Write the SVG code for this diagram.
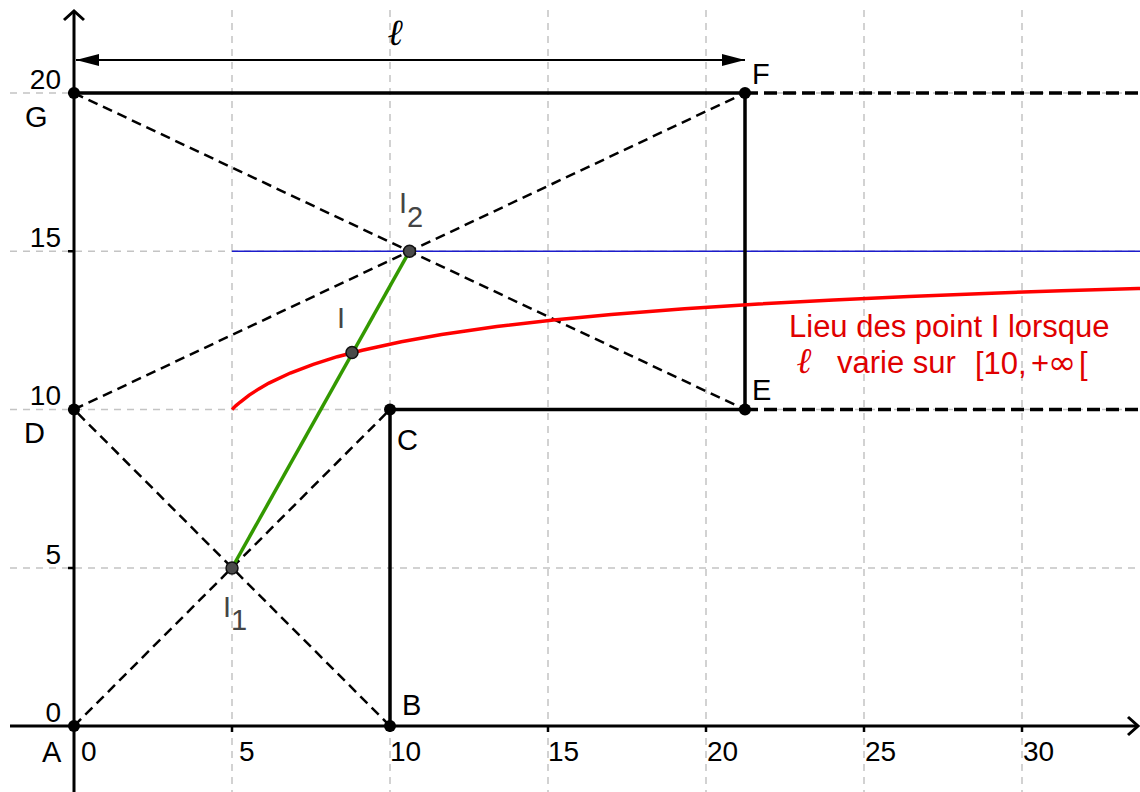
<svg xmlns="http://www.w3.org/2000/svg" width="1140" height="792" viewBox="0 0 1140 792">
<style>
.grid{stroke:#c4c4c4;stroke-width:1.5;stroke-dasharray:7 6;fill:none}
.axis{stroke:#000;stroke-width:3;fill:none}
.solid{stroke:#000;stroke-width:3.5;fill:none;stroke-linecap:square}
.ext{stroke:#000;stroke-width:3.5;fill:none;stroke-dasharray:13 6}
.diag{stroke:#000;stroke-width:2.5;fill:none;stroke-dasharray:10 6}
.pt{fill:#000}
.gpt{fill:#4a4a4a;stroke:#111;stroke-width:1.5}
.lbl{font-family:"Liberation Sans",Arial,sans-serif;font-size:29px;fill:#000}
.glbl{font-family:"Liberation Sans",Arial,sans-serif;font-size:29px;fill:#444}
.num{font-family:"Liberation Sans",Arial,sans-serif;font-size:28px;fill:#000}
.red{font-family:"Liberation Sans",Arial,sans-serif;font-size:31px;fill:#e00000}
.ell{font-family:"Liberation Serif","DejaVu Serif",serif;font-style:italic;font-weight:bold}
</style>
<defs>
<marker id="arr" viewBox="0 0 23 12" refX="23" refY="6" markerWidth="23" markerHeight="12" markerUnits="userSpaceOnUse" orient="auto-start-reverse">
<path d="M0,0 L23,6 L0,12 z" fill="#000"/>
</marker>
</defs>
<rect width="1140" height="792" fill="#fff"/>

<g id="grid" class="grid">
<line x1="232" y1="10" x2="232" y2="792"/>
<line x1="390" y1="10" x2="390" y2="792"/>
<line x1="548" y1="10" x2="548" y2="792"/>
<line x1="706" y1="10" x2="706" y2="792"/>
<line x1="864" y1="10" x2="864" y2="792"/>
<line x1="1022" y1="10" x2="1022" y2="792"/>
<line x1="10" y1="93" x2="1140" y2="93"/>
<line x1="10" y1="251.25" x2="1140" y2="251.25"/>
<line x1="10" y1="409.5" x2="1140" y2="409.5"/>
<line x1="10" y1="568" x2="1140" y2="568"/>
</g>

<g id="axes">
<line class="axis" x1="10" y1="726" x2="1137" y2="726"/>
<polyline class="axis" points="1128,717 1138,726 1128,735"/>
<line class="axis" x1="74" y1="12" x2="74" y2="792"/>
<polyline class="axis" points="64,20 74,11 84,20"/>
<g stroke="#000" stroke-width="2.5">
<line x1="232" y1="726" x2="232" y2="732"/>
<line x1="390" y1="726" x2="390" y2="732"/>
<line x1="548" y1="726" x2="548" y2="732"/>
<line x1="706" y1="726" x2="706" y2="732"/>
<line x1="864" y1="726" x2="864" y2="732"/>
<line x1="1022" y1="726" x2="1022" y2="732"/>
<line x1="68" y1="93" x2="74" y2="93"/>
<line x1="68" y1="251.25" x2="74" y2="251.25"/>
<line x1="68" y1="409.5" x2="74" y2="409.5"/>
<line x1="68" y1="568" x2="74" y2="568"/>
</g>
<g class="num">
<text x="61" y="89" text-anchor="end">20</text>
<text x="61" y="247" text-anchor="end">15</text>
<text x="61" y="405" text-anchor="end">10</text>
<text x="61" y="564" text-anchor="end">5</text>
<text x="61" y="722" text-anchor="end">0</text>
<text x="81" y="761">0</text>
<text x="239" y="761">5</text>
<text x="390" y="761">10</text>
<text x="548" y="761">15</text>
<text x="707" y="761">20</text>
<text x="865" y="761">25</text>
<text x="1023" y="761">30</text>
</g>
</g>

<g id="connectors">
<line x1="232" y1="251.25" x2="1140" y2="251.25" stroke="#1c1ccc" stroke-width="1.6"/>
<line class="diag" x1="74" y1="726" x2="390" y2="409.5"/>
<line class="diag" x1="390" y1="726" x2="74" y2="409.5"/>
<line class="diag" x1="74" y1="409.5" x2="745" y2="93"/>
<line class="diag" x1="74" y1="93" x2="745" y2="409.5"/>
<line class="ext" x1="745" y1="93" x2="1140" y2="93"/>
<line class="ext" x1="745" y1="409.5" x2="1140" y2="409.5"/>
<polyline class="solid" points="390,726 390,409.5 745,409.5 745,93 74,93"/>
<line x1="76" y1="60" x2="745" y2="60" stroke="#000" stroke-width="2" marker-start="url(#arr)" marker-end="url(#arr)"/>
<line x1="232" y1="568" x2="409.5" y2="251.25" stroke="#339900" stroke-width="3.5"/>
<polyline fill="none" stroke="#ff0000" stroke-width="3.5" points="232,409.5 236,405.6 240.3,402 249.2,395.1 258.8,388.9 268.9,383.1 290.3,373 313.3,364.3 337.3,356.7 362.4,350.2 401.3,341.7 441.6,334.5 496.8,326.6 553.5,320.1 611.2,314.5 684.5,308.8 758.7,304 833.6,299.9 909.1,296.5 985.1,293.4 1061.5,290.8 1138.2,288.5 1215.1,286.4"/>
</g>

<text class="ell" x="388" y="45" style="font-size:37px" fill="#000">ℓ</text>

<g id="A"><circle class="pt" cx="74" cy="726" r="6"/><text class="lbl" x="42" y="762">A</text></g>
<g id="B"><circle class="pt" cx="390" cy="726" r="6"/><text class="lbl" x="402" y="715">B</text></g>
<g id="C"><circle class="pt" cx="390" cy="409.5" r="6"/><text class="lbl" x="397" y="450">C</text></g>
<g id="D"><circle class="pt" cx="74" cy="409.5" r="6"/><text class="lbl" x="24" y="443">D</text></g>
<g id="E"><circle class="pt" cx="745" cy="409.5" r="6"/><text class="lbl" x="752" y="400">E</text></g>
<g id="F"><circle class="pt" cx="745" cy="93" r="6"/><text class="lbl" x="752" y="84">F</text></g>
<g id="G"><circle class="pt" cx="74" cy="93" r="6"/><text class="lbl" x="25" y="127">G</text></g>
<g id="I1"><circle class="gpt" cx="232" cy="568" r="6"/><text class="glbl" x="223" y="617">I<tspan dy="13">1</tspan></text></g>
<g id="I2"><circle class="gpt" cx="409.5" cy="251.25" r="6"/><text class="glbl" x="399" y="213">I<tspan dy="14">2</tspan></text></g>
<g id="I"><circle class="gpt" cx="352" cy="352.5" r="6"/><text class="glbl" x="337" y="328">I</text></g>

<g id="legend">
<text class="red" x="789" y="337">Lieu des point I lorsque</text>
<text class="red ell" x="797" y="373" style="font-size:36px">ℓ</text>
<text class="red" x="837" y="373">varie sur</text>
<text class="red" x="975" y="374">[10,<tspan x="1031">+</tspan><tspan x="1048" style="font-family:'DejaVu Sans',sans-serif;font-size:34px">∞</tspan><tspan x="1079">[</tspan></text>
</g>
</svg>
